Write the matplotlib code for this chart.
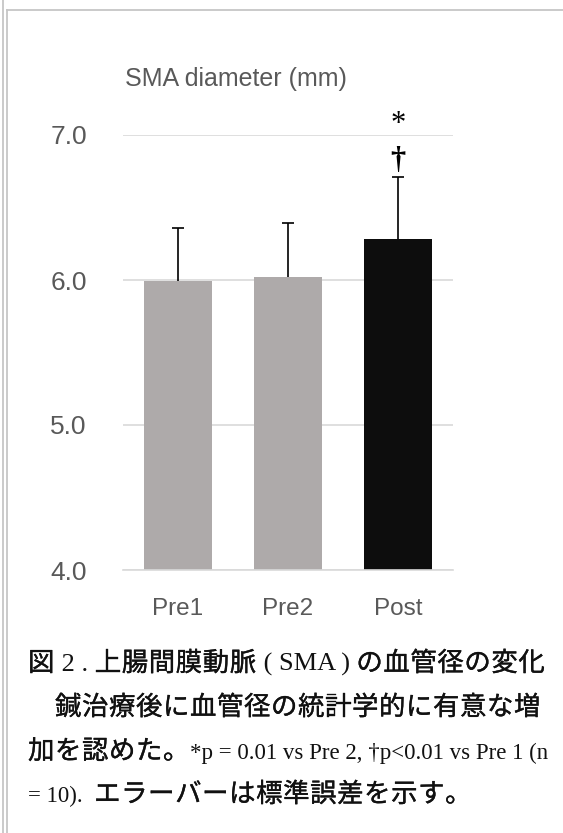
import matplotlib
matplotlib.use("Agg")
import matplotlib.pyplot as plt
import matplotlib.patheffects as pe
from matplotlib.lines import Line2D
import numpy as np

# SMA diameter (mm), mean and SEM per time point
groups = ["Pre1", "Pre2", "Post"]
means = [5.99, 6.02, 6.28]
sems = [0.37, 0.37, 0.43]
bar_colors = ["#AEAAAA", "#AEAAAA", "#0D0D0D"]
yticks = [4.0, 5.0, 6.0, 7.0]

W, H = 563, 833
SANS = "Liberation Sans"
SERIF = "Liberation Serif"
CJK = "Noto Sans CJK JP"
GREY_TXT = "#595959"

fig = plt.figure(figsize=(W / 100, H / 100), dpi=100)
fig.patch.set_facecolor("white")

# frame lines round the panel
frame = "#C6C6C6"
fig.add_artist(Line2D([2.5 / W, 2.5 / W], [0, 1], color=frame, lw=1.3))
fig.add_artist(Line2D([7.5 / W, 7.5 / W], [0, 1 - 9.5 / H], color=frame, lw=1.3))
fig.add_artist(Line2D([7.5 / W, 1], [1 - 9.5 / H, 1 - 9.5 / H], color=frame, lw=1.3))

ax = fig.add_axes([123 / W, (H - 570) / H, 330 / W, 435 / H])
x = np.arange(len(groups))
means = np.array(means)
sems = np.array(sems)

ax.bar(x, means - 4.0, bottom=4.0, width=0.627, color=bar_colors, zorder=2)

# upper error bars only
tops = means + sems
ax.vlines(x, means, tops, color="black", lw=1.2, zorder=3)
ax.plot(x, tops, ls="none", marker="_", ms=8, mew=1.2, color="black", zorder=3)

# significance marks above Post
ax.text(x[2], tops[2] + 0.115, "\u2020", ha="center", va="center",
        fontsize=22, family=SERIF, weight="bold", clip_on=False)
ax.text(x[2], tops[2] + 0.365, "*", ha="center", va="center",
        fontsize=22, family=SERIF, clip_on=False)

ax.set_xlim(-0.5, 2.5)
ax.set_ylim(4.0, 7.0)
ax.set_yticks(yticks)
ax.set_yticklabels(["%.1f" % v for v in yticks], family=SANS)
ax.set_xticks(x)
ax.set_xticklabels(groups, family=SANS)
ax.yaxis.grid(True, color="#D9D9D9", lw=1.2)
ax.set_axisbelow(True)
for s in ["top", "right", "left"]:
    ax.spines[s].set_visible(False)
ax.spines["bottom"].set_color("#D9D9D9")
ax.spines["bottom"].set_linewidth(1.2)
ax.tick_params(axis="y", length=0, pad=26, labelsize=19, labelcolor=GREY_TXT)
ax.tick_params(axis="x", length=0, pad=20, labelsize=17.5, labelcolor=GREY_TXT)

fig.text(125 / W, 1 - 86 / H, "SMA diameter (mm)", family=SANS, fontsize=18,
         color=GREY_TXT, va="baseline")

# caption, written run by run
renderer = fig.canvas.get_renderer()
PITCH = 27.0
INK = "#111111"
thicken = [pe.withStroke(linewidth=0.25, foreground=INK)]


def put_line(y_px, runs, x0=28.0):
    xp = x0
    for s, kind, size in runs:
        if kind == "cjk":
            for ch in s:
                if ch != "\u3000":
                    fig.text(xp / W, 1 - y_px / H, ch, family=CJK, fontsize=size,
                             va="baseline", color=INK, path_effects=thicken)
                xp += PITCH
        else:
            t = fig.text(xp / W, 1 - y_px / H, s, family=SERIF, fontsize=size,
                         va="baseline", color=INK)
            xp += t.get_window_extent(renderer).width


put_line(671, [("図", "cjk", 19), (" 2 . ", "serif", 19),
               ("上腸間膜動脈", "cjk", 19), (" ( SMA ) ", "serif", 19),
               ("の血管径の変化", "cjk", 19)])
put_line(715, [("\u3000鍼治療後に血管径の統計学的に有意な増", "cjk", 19)])
put_line(759, [("加を認めた。", "cjk", 19),
               ("*p = 0.01 vs Pre 2, \u2020p<0.01 vs Pre 1 (n", "serif", 16.5)])
put_line(802, [("= 10).  ", "serif", 16.5), ("エラーバーは標準誤差を示す。", "cjk", 19)])

fig.savefig("out.png", dpi=100, facecolor="white")
